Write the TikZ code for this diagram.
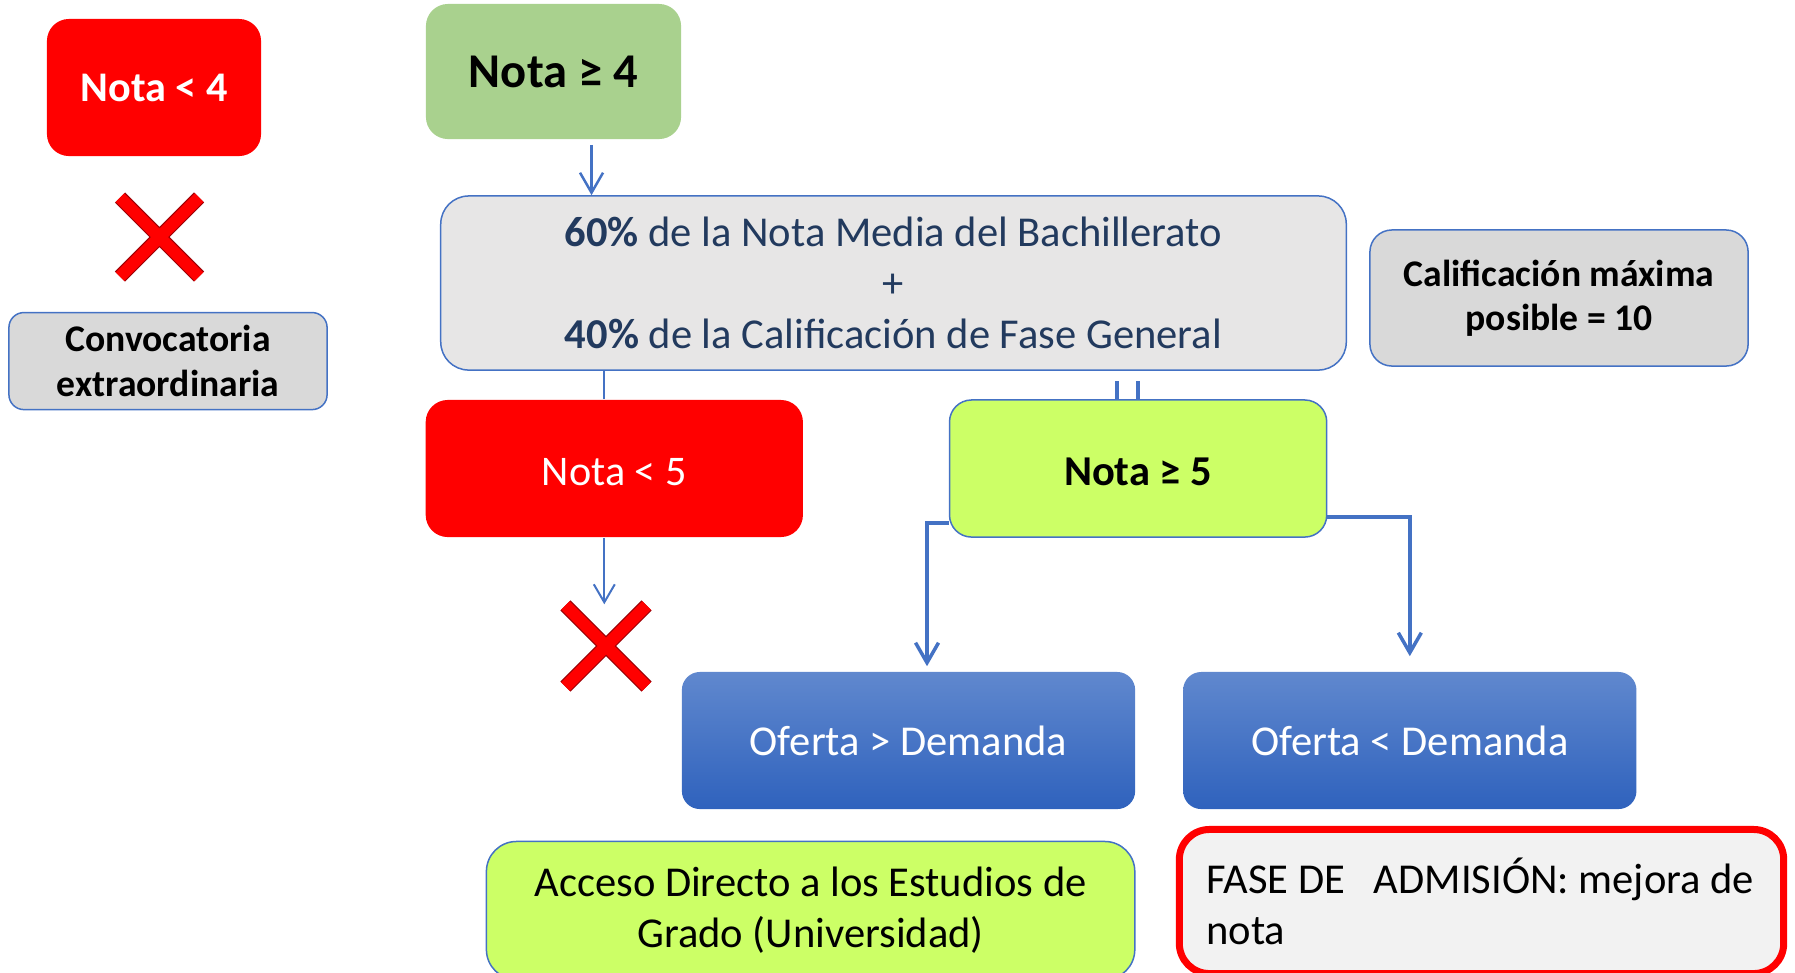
\documentclass[tikz,border=0pt]{standalone}
\usepackage{fontspec}
\setmainfont{Carlito}
\usetikzlibrary{positioning,arrows.meta,calc}

\definecolor{blueline}{HTML}{4472C4}
\definecolor{redbox}{HTML}{FF0000}
\definecolor{greenbox}{HTML}{A9D18E}
\definecolor{limebox}{HTML}{CCFF66}
\definecolor{greybox}{HTML}{D9D9D9}
\definecolor{lightgrey}{HTML}{E7E6E6}
\definecolor{palegrey}{HTML}{F2F2F2}
\definecolor{navytext}{HTML}{223A5E}
\definecolor{offertop}{HTML}{6088CE}
\definecolor{offerbot}{HTML}{2F62BD}
\definecolor{crossdark}{HTML}{9C0006}

\begin{document}
\begin{tikzpicture}[x=0.01cm,y=-0.01cm,
    box/.style={rounded corners=0.22cm,inner sep=0pt,align=center,line width=0.015cm},
    flow/.style={draw=blueline,line width=0.035cm,-{Straight Barb[length=0.2cm,width=0.23cm]}},
    flowthin/.style={draw=blueline,line width=0.02cm,-{Straight Barb[length=0.18cm,width=0.21cm]}},
    link/.style={draw=blueline,line width=0.02cm}]
        \tikzstyle{redcross}=[minimum width=0.89cm,minimum height=0.89cm,inner sep=0pt,
          path picture={\draw[line width=0.012cm,draw=crossdark,double=redbox,double distance=0.12cm]
            ($(path picture bounding box.north west)+(5,5)$) -- ($(path picture bounding box.south east)+(-5,-5)$)
            ($(path picture bounding box.north east)+(-5,5)$) -- ($(path picture bounding box.south west)+(5,-5)$);}]
        \useasboundingbox (0,0) rectangle (1795,972);
        \clip (0,0) rectangle (1795,972);
        % left column
        \node[box,fill=redbox,minimum width=2.14cm,minimum height=1.37cm,text=white,
          font=\fontsize{12}{14}\selectfont\bfseries] (low4) at (154,87.5) {Nota < 4};
        \node[redcross] (cross1) [below=0.35cm of low4,xshift=0.055cm] {};
        \node[box,rounded corners=0.15cm,fill=greybox,draw=blueline,minimum width=3.18cm,minimum height=0.97cm,
          font=\fontsize{10.7}{12.8}\selectfont\bfseries] (extra) [below=0.295cm of cross1,xshift=0.085cm] {Convocatoria\\extraordinaria};
        % top row
        \node[box,fill=greenbox,minimum width=2.55cm,minimum height=1.35cm,
          font=\fontsize{13.8}{16}\selectfont\bfseries] (high4) at (553.5,71.5) {Nota ≥ 4};
        \node[box,rounded corners=0.28cm,fill=lightgrey,draw=blueline,minimum width=9.05cm,minimum height=1.74cm,
          text=navytext,font=\fontsize{12.1}{14.5}\selectfont] (formula) at (893.5,283)
          {\textbf{60\%} de la Nota Media del Bachillerato\\+\\\textbf{40\%} de la Calificación de Fase General};
        \node[box,fill=greybox,draw=blueline,minimum width=3.78cm,minimum height=1.36cm,
          font=\fontsize{10.7}{12.5}\selectfont\bfseries] (maxgrade) at (1559,298) {Calificación máxima\\posible = 10};
        % second row
        \node[box,fill=redbox,minimum width=3.77cm,minimum height=1.37cm,text=white,
          text height=9.8pt,text depth=0pt,font=\fontsize{12}{14}\selectfont] (low5) at (614.3,468.5) {Nota < 5};
        \node[box,fill=limebox,draw=blueline,minimum width=3.77cm,minimum height=1.37cm,
          text height=9.8pt,text depth=0pt,font=\fontsize{12.1}{14}\selectfont\bfseries] (high5) [right=1.45cm of low5] {Nota ≥ 5};
        \node[redcross,minimum width=0.91cm,minimum height=0.91cm] (cross2) at (606,646) {};
        % offer vs demand
        \node[box,rounded corners=0.18cm,top color=offertop,bottom color=offerbot,minimum width=4.53cm,minimum height=1.37cm,
          text=white,font=\fontsize{12.1}{14}\selectfont] (supply) at (908.5,740.5) {Oferta > Demanda};
        \node[box,rounded corners=0.18cm,top color=offertop,bottom color=offerbot,minimum width=4.53cm,minimum height=1.37cm,
          text=white,font=\fontsize{12.1}{14}\selectfont] (demand) [right=0.465cm of supply] {Oferta < Demanda};
        % results
        \node[box,rounded corners=0.3cm,fill=limebox,draw=blueline,minimum width=6.48cm,minimum height=1.38cm,
          font=\fontsize{12.1}{14.5}\selectfont] (direct) at (810.6,910.5) {Acceso Directo a los Estudios de\\Grado (Universidad)};
        \node[box,rounded corners=0.3cm,fill=palegrey,draw=redbox,line width=0.07cm,minimum width=6.04cm,minimum height=1.44cm,
          text width=5.5cm,align=flush left,font=\fontsize{12.1}{14.5}\selectfont] (phase) at (1481.5,901.5) {FASE DE\ \ \ ADMISIÓN: mejora de\\nota};
        % connectors
        \draw[flow,line width=0.025cm,shorten <=0.05cm] ([xshift=0.38cm]high4.south) -- ([xshift=0.38cm]high4.south |- formula.north);
        \draw[link] ([xshift=-0.1cm]low5.north) -- ([xshift=-0.1cm]low5.north |- formula.south);
        \foreach \dx in {-0.21,0}
          \draw[link,line width=0.035cm,shorten >=0.1cm] ([xshift=\dx cm]high5.north) -- ([xshift=\dx cm]high5.north |- formula.south);
        \draw[flowthin,shorten >=-0.045cm] ([xshift=-0.1cm]low5.south) -- ([xshift=-0.1cm]low5.south |- cross2.north);
        \draw[flow,shorten >=0.05cm] ([yshift=-0.545cm]high5.west) -| ([xshift=0.185cm]supply.north);
        \draw[flow,shorten >=0.15cm] ([yshift=-0.485cm]high5.east) -| (demand.north);
    \end{tikzpicture}
\end{document}
